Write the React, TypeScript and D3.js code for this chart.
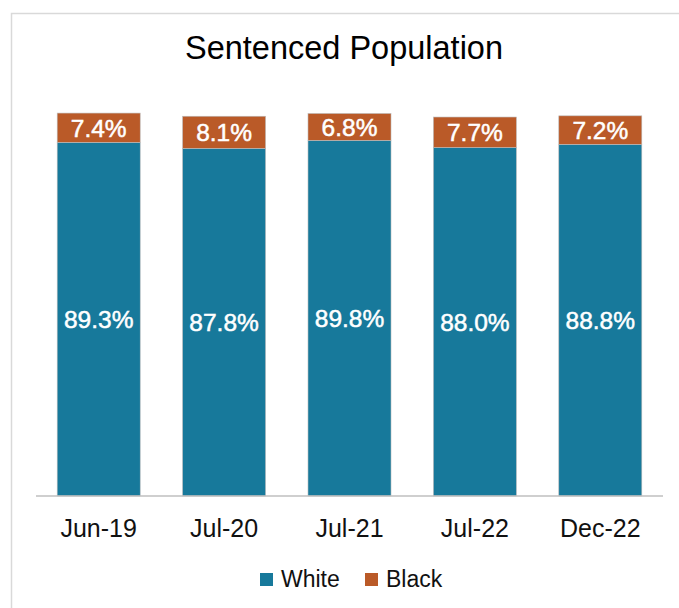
import React from "react";
import * as d3 from "d3";

const categories = ["Jun-19", "Jul-20", "Jul-21", "Jul-22", "Dec-22"];
const whiteValues = [89.3, 87.8, 89.8, 88.0, 88.8];
const blackValues = [7.4, 8.1, 6.8, 7.7, 7.2];
const seriesNames = ["White", "Black"];
const seriesColors = ["#17799B", "#BA5A28"];
const title = "Sentenced Population";

const W = 679;
const H = 608;
const FONT = "'Liberation Sans', Arial, sans-serif";

export default function App() {
  const x = d3
    .scaleBand<string>()
    .domain(categories)
    .range([36, 663])
    .paddingInner(0.338)
    .paddingOuter(0.169);
  const y = d3.scaleLinear().domain([0, 100]).range([496, 100]);

  const rows = categories.map((c, i) => ({ cat: c, White: whiteValues[i], Black: blackValues[i] }));
  const stack = d3.stack<any>().keys(seriesNames)(rows);

  return (
    <svg
      width={W}
      height={H}
      style={{ position: "absolute", left: 0, top: 0, background: "#fff" }}
      fontFamily={FONT}
    >
      <rect x={0} y={0} width={W} height={H} fill="#fff" />
      <rect x={11.5} y={13.5} width={W + 20} height={H + 20} fill="none" stroke="#d9d9d9" strokeWidth={1.5} />
      <text x={344} y={59} textAnchor="middle" fontSize={32.5} fill="#000">
        {title}
      </text>
      {stack.map((s, si) => (
        <g key={s.key}>
          {s.map((d, i) => {
            const x0 = x(categories[i])!;
            const yTop = y(d[1]);
            const yBot = y(d[0]);
            const v = si === 0 ? whiteValues[i] : blackValues[i];
            return (
              <g key={i}>
                <rect
                  x={x0}
                  y={yTop}
                  width={x.bandwidth()}
                  height={yBot - yTop}
                  fill={seriesColors[si]}
                  stroke="#bdbdbd"
                  strokeWidth={0.6}
                />
                <text
                  x={x0 + x.bandwidth() / 2}
                  y={(yTop + yBot) / 2}
                  dy="0.36em"
                  textAnchor="middle"
                  fontSize={24.5}
                  fill="#fff"
                  stroke="#fff"
                  strokeWidth={0.5}
                >
                  {v.toFixed(1) + "%"}
                </text>
              </g>
            );
          })}
        </g>
      ))}
      <line x1={36} x2={663} y1={496} y2={496} stroke="#bfbfbf" strokeWidth={1.5} />
      {categories.map((c) => (
        <text key={c} x={x(c)! + x.bandwidth() / 2} y={537} textAnchor="middle" fontSize={25} fill="#111">
          {c}
        </text>
      ))}
      {seriesNames.map((n, i) => {
        const lx = [260, 365][i];
        return (
          <g key={n}>
            <rect x={lx} y={573} width={13} height={13} fill={seriesColors[i]} />
            <text x={lx + 21} y={587} fontSize={23} fill="#111">
              {n}
            </text>
          </g>
        );
      })}
    </svg>
  );
}
